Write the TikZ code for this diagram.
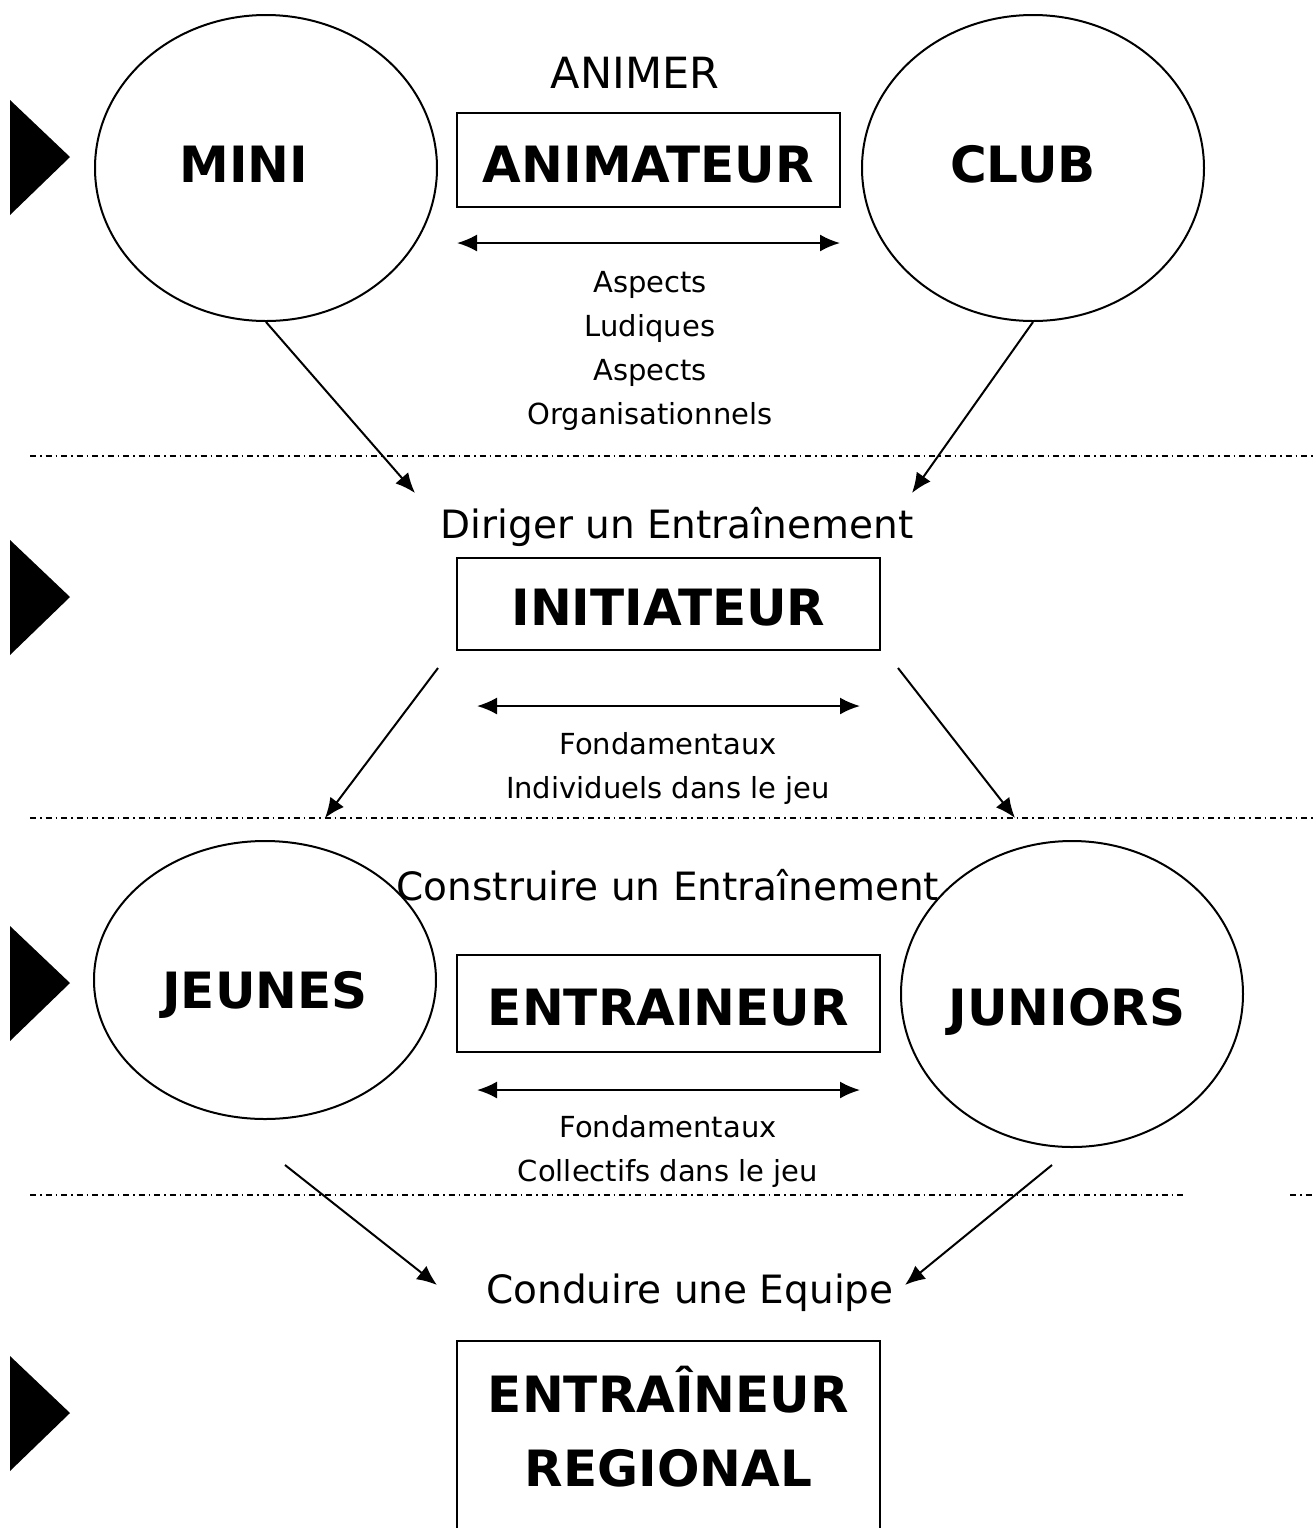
\documentclass[tikz,border=0pt]{standalone}
\usepackage{fontspec}
\setmainfont{DejaVu Sans}
\usetikzlibrary{shapes.geometric,arrows.meta}

\begin{document}
\begin{tikzpicture}[x=0.5pt, y=-0.5pt, line width=1pt, >={Latex[length=10pt,width=8.5pt]},
  oval/.style={draw, ellipse, minimum width=171pt, minimum height=153pt},
  box/.style={draw, rectangle, minimum width=211.5pt},
  big/.style={font=\fontsize{25}{37}\selectfont\bfseries, align=center, anchor=base},
  mid/.style={font=\fontsize{19.5}{24}\selectfont, anchor=base},
  small/.style={font=\fontsize{14.5}{22}\selectfont, align=center, anchor=base},
  sep/.style={line width=0.65pt, dash pattern=on 3pt off 2pt on 0.75pt off 2pt}]
\clip (0,0) rectangle (1313,1528);
% Black markers on the left, one per level
\foreach \y in {157,597,983,1413}
  \fill (10,\y-57) -- (70,\y) -- (10,\y+58) -- cycle;
% Level 1: animateur
% (multi-line nodes sit on the baseline of their last line)
\node[oval] (mini) at (266,168) {};
\node[oval] (club) at (1033,168) {};
\node[big] (minitxt) at (244,182) {MINI};
\node[big] (clubtxt) at (1023,182) {CLUB};
\node[mid, font=\fontsize{21.5}{24}\selectfont] (animer) at (635,88) {ANIMER};
\node[box, minimum width=191.5pt, minimum height=47pt] (animateur) at (648.5,160) {};
\node[big] (animtxt) at (648.5,182) {ANIMATEUR};
\coordinate (a1) at (457,243);
\coordinate (a2) at (840,243);
\draw[<->] (a1) -- (a2);
\node[small] (aspects) at (650,424) {Aspects\\Ludiques\\Aspects\\Organisationnels};
% Separator and arrows down to the initiateur
\draw[sep] (30,456) -- (1313,456);
\node[mid] (diriger) at (677,538) {Diriger un Entraînement};
\coordinate (d1) at (415,493);
\coordinate (d2) at (912,493);
\draw[->] (mini.south) -- (d1);
\draw[->] (club.south) -- (d2);
% Level 2: initiateur
\node[box, minimum height=46pt] (initiateur) at (668.5,604) {};
\node[big] (inittxt) at (668.5,625) {INITIATEUR};
\coordinate (i1) at (477,706);
\coordinate (i2) at (860,706);
\draw[<->] (i1) -- (i2);
\node[small] (fondindiv) at (668,798) {Fondamentaux\\Individuels dans le jeu};
\coordinate (s1) at (438,668);
\coordinate (s2) at (898,668);
\coordinate (t1) at (325,818);
\coordinate (t2) at (1015,818);
\draw[->] (s1) -- (t1);
\draw[->] (s2) -- (t2);
\draw[sep] (30,818) -- (1313,818);
% Level 3: entraineur
\node[oval, minimum height=139pt] (jeunes) at (265,980) {};
\node[oval] (juniors) at (1072,994) {};
\node[mid] (construire) at (668,900) {Construire un Entraînement};
\node[big] (jeunestxt) at (265,1008) {JEUNES};
\node[big] (juniorstxt) at (1067,1025) {JUNIORS};
\node[box, minimum height=48.5pt] (entraineur) at (668.5,1003.5) {};
\node[big] (entrtxt) at (668.5,1025) {ENTRAINEUR};
\coordinate (e1) at (477,1090);
\coordinate (e2) at (860,1090);
\draw[<->] (e1) -- (e2);
\node[small] (fondcoll) at (668,1181) {Fondamentaux\\Collectifs dans le jeu};
\draw[sep] (30,1195) -- (1185,1195);
\draw[sep] (1290,1195) -- (1313,1195);
% Arrows down to the regional level
\coordinate (j1) at (285,1165);
\coordinate (j2) at (1052,1165);
\coordinate (c1) at (437,1285);
\coordinate (c2) at (905,1285);
\draw[->] (j1) -- (c1);
\draw[->] (j2) -- (c2);
\node[mid] (conduire) at (690,1303) {Conduire une Equipe};
% Level 4: entraineur regional
\node[box, minimum height=110pt, anchor=north] (regional) at (668.5,1340) {};
\node[big] (regtxt) at (668.5,1486) {ENTRAÎNEUR\\REGIONAL};
\end{tikzpicture}
\end{document}
